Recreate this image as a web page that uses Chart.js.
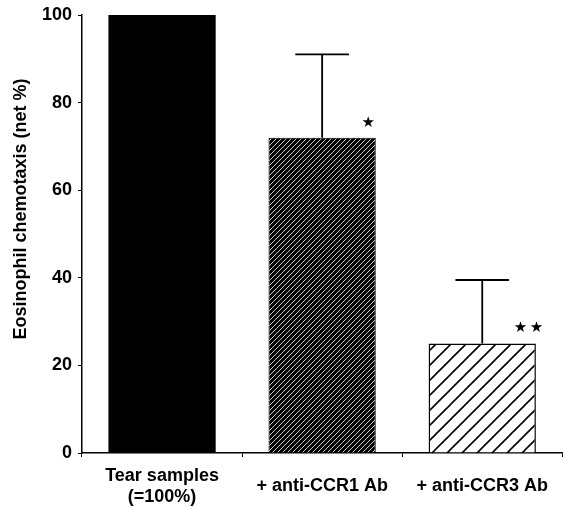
<!DOCTYPE html>
<html>
<head>
<meta charset="utf-8">
<script src="https://cdn.jsdelivr.net/npm/chart.js@4.4.1/dist/chart.umd.min.js"></script>
<style>
    body { margin: 0; background: #fff; }
    #wrap { width: 567px; height: 509px; }
</style>
</head>
<body>
<div id="wrap"><canvas id="bar-chart-chemotaxis"></canvas></div>
<script>
var categories = [['Tear samples', '(=100%)'], '+ anti-CCR1 Ab', '+ anti-CCR3 Ab'];
var meanValues = [100, 72, 25];
var errorValues = [0, 19, 14.5];
var sigMarks = ['', '*', '**'];

var fontFamily = '"Liberation Sans", Arial, Helvetica, sans-serif';

// diagonal hatch tile ( "/" lines )
function hatch(size, bg, fg, lw) {
    var c = document.createElement('canvas');
    c.width = size;
    c.height = size;
    var g = c.getContext('2d');
    g.fillStyle = bg;
    g.fillRect(0, 0, size, size);
    g.strokeStyle = fg;
    g.lineWidth = lw;
    g.beginPath();
    g.moveTo(0, size); g.lineTo(size, 0);
    g.moveTo(-2, 2); g.lineTo(2, -2);
    g.moveTo(size - 2, size + 2); g.lineTo(size + 2, size - 2);
    g.stroke();
    return g.createPattern(c, 'repeat');
}

var ctx = document.getElementById('bar-chart-chemotaxis').getContext('2d');
var densePattern = hatch(5, '#000', '#fff', 0.8);
var openPattern = hatch(15, '#fff', '#000', 1.6);

var errorBars = {
    id: 'errorBars',
    afterDatasetsDraw: function (chart) {
        var g = chart.ctx;
        var y = chart.scales.y;
        var meta = chart.getDatasetMeta(0);
        g.save();
        g.strokeStyle = '#000';
        g.lineWidth = 1.8;
        for (var i = 0; i < meanValues.length; i++) {
            var bar = meta.data[i];
            var half = bar.width / 4;
            if (errorValues[i] > 0) {
                var yTop = y.getPixelForValue(meanValues[i] + errorValues[i]);
                var yBar = y.getPixelForValue(meanValues[i]);
                g.beginPath();
                g.moveTo(bar.x, yBar); g.lineTo(bar.x, yTop);
                g.moveTo(bar.x - half, yTop); g.lineTo(bar.x + half, yTop);
                g.stroke();
            }
            if (sigMarks[i]) {
                // significance stars next to the bar top
                g.fillStyle = '#000';
                g.font = '15px "DejaVu Sans"';
                g.textAlign = 'center';
                g.textBaseline = 'middle';
                var n = sigMarks[i].length;
                var cx = bar.x + bar.width * 0.43;
                var cy = y.getPixelForValue(meanValues[i]) - 15;
                for (var k = 0; k < n; k++) {
                    g.fillText('\u2605', cx + (k - (n - 1) / 2) * 16, cy);
                }
            }
        }
        g.restore();
    }
};

new Chart(ctx, {
    type: 'bar',
    data: {
        labels: categories,
        datasets: [
            {
                data: meanValues,
                backgroundColor: ['#000', densePattern, openPattern],
                borderColor: '#000',
                borderWidth: [0, 1, 1.5],
                barPercentage: 0.67,
                categoryPercentage: 1
            }
        ]
    },
    options: {
        responsive: true,
        maintainAspectRatio: false,
        devicePixelRatio: 1,
        animation: false,
        layout: { padding: { top: 2, right: 0, left: 0, bottom: 0 } },
        plugins: {
            legend: { display: false },
            tooltip: { enabled: false }
        },
        scales: {
            x: {
                grid: { drawOnChartArea: false, tickLength: 4, color: '#000' },
                border: { color: '#000', width: 1.5 },
                ticks: {
                    color: '#000',
                    padding: 19,
                    crossAlign: 'center',
                    maxRotation: 0,
                    font: { family: fontFamily, size: 18, weight: 'bold', lineHeight: 1.15 }
                },
                afterFit: function (scale) { scale.height = 56; }
            },
            y: {
                min: 0,
                max: 100,
                ticks: {
                    stepSize: 20,
                    color: '#000',
                    padding: 6,
                    font: { family: fontFamily, size: 18, weight: 'bold', lineHeight: 1 }
                },
                grid: { drawOnChartArea: false, tickLength: 4, color: '#000' },
                border: { color: '#000', width: 1.5 },
                title: {
                    display: true,
                    text: '          Eosinophil chemotaxis (net %)',
                    color: '#000',
                    padding: { top: 10, bottom: 0 },
                    font: { family: fontFamily, size: 18, weight: 'bold' }
                },
                afterFit: function (scale) { scale.width = 82; }
            }
        }
    },
    plugins: [errorBars]
});
</script>
</body>
</html>
